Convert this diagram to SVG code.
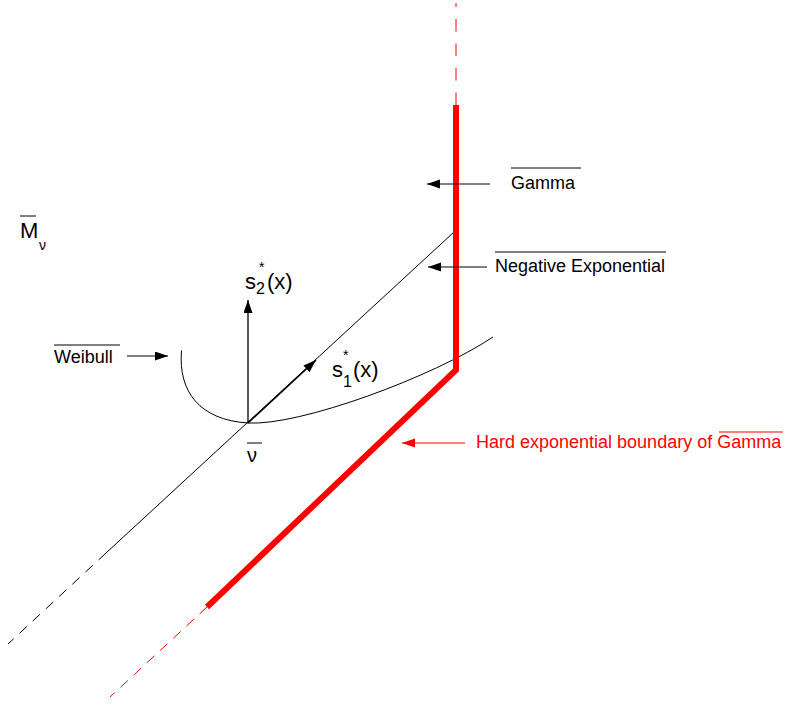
<svg xmlns="http://www.w3.org/2000/svg" width="793" height="705" viewBox="0 0 793 705">
<style>
text{font-family:"Liberation Sans",Arial,sans-serif;fill:#000}
.lbl{font-size:18px}
.red{fill:#ff0000}
.thin{stroke:#000;stroke-width:1;fill:none}
.bar{stroke:#000;stroke-width:1}
.rbar{stroke:#ff0000;stroke-width:1}
</style>
<defs>
<marker id="ah" markerUnits="userSpaceOnUse" markerWidth="14" markerHeight="10" refX="13" refY="4.5" orient="auto">
<path d="M0,0 L13,4.5 L0,9 Z" fill="#000"/>
</marker>
<marker id="ahr" markerUnits="userSpaceOnUse" markerWidth="14" markerHeight="10" refX="13" refY="4.5" orient="auto">
<path d="M0,0 L13,4.5 L0,9 Z" fill="#ff0000"/>
</marker>
</defs>
<g id="connectors">
<line class="thin" x1="454" y1="232" x2="106" y2="553"/>
<line class="thin" x1="106" y1="553" x2="8" y2="644" stroke-dasharray="10,8"/>
<path class="thin" d="M181.5,350.5 C178,392 200,420 248,423 C300,426 433,377 493,337"/>
<line x1="248" y1="423" x2="316" y2="360" stroke="#000" stroke-width="1.5" marker-end="url(#ah)"/>
<line x1="248" y1="423" x2="248" y2="300" stroke="#000" stroke-width="1.3" marker-end="url(#ah)"/>
<polyline points="456,105 456,370 207,607" fill="none" stroke="#ff0000" stroke-width="6"/>
<line x1="456" y1="105" x2="456" y2="3" stroke="#ff0000" stroke-width="1" stroke-dasharray="12.5,12"/>
<line x1="207" y1="607" x2="110" y2="697" stroke="#ff0000" stroke-width="1" stroke-dasharray="10,8"/>
<line x1="490" y1="184" x2="427" y2="184" stroke="#000" stroke-width="1" marker-end="url(#ah)"/>
<line x1="487" y1="267" x2="428" y2="267" stroke="#000" stroke-width="1" marker-end="url(#ah)"/>
<line x1="127" y1="356" x2="168" y2="356" stroke="#000" stroke-width="1" marker-end="url(#ah)"/>
<line x1="465" y1="443" x2="402" y2="443" stroke="#ff0000" stroke-width="1" marker-end="url(#ahr)"/>
</g>
<g id="node-M">
<text x="20" y="238" font-size="22">M</text>
<line class="bar" x1="20" y1="216" x2="36" y2="216"/>
<text x="39" y="250" font-size="14">ν</text>
</g>
<g id="node-nu">
<text x="247" y="462" font-size="20">ν</text>
<line class="bar" x1="247" y1="443" x2="262" y2="443"/>
</g>
<g id="node-s2">
<text x="245" y="289" font-size="22">s</text>
<text x="256" y="294" font-size="16">2</text>
<text x="259" y="272" font-size="14">*</text>
<text x="267" y="289" font-size="22">(x)</text>
</g>
<g id="node-s1">
<text x="332" y="377" font-size="22">s</text>
<text x="343" y="387" font-size="16">1</text>
<text x="343" y="360" font-size="14">*</text>
<text x="353" y="377" font-size="22">(x)</text>
</g>
<g id="node-gamma">
<text class="lbl" x="511" y="189">Gamma</text>
<line class="bar" x1="511" y1="168" x2="581" y2="168"/>
</g>
<g id="node-negexp">
<text class="lbl" x="495" y="272">Negative Exponential</text>
<line class="bar" x1="495" y1="252" x2="666" y2="252"/>
</g>
<g id="node-weibull">
<text class="lbl" x="54" y="363">Weibull</text>
<line class="bar" x1="54" y1="345" x2="120" y2="345"/>
</g>
<g id="node-hard">
<text class="lbl red" x="476" y="448">Hard exponential boundary of Gamma</text>
<line class="rbar" x1="719" y1="432" x2="783" y2="432"/>
</g>
</svg>
